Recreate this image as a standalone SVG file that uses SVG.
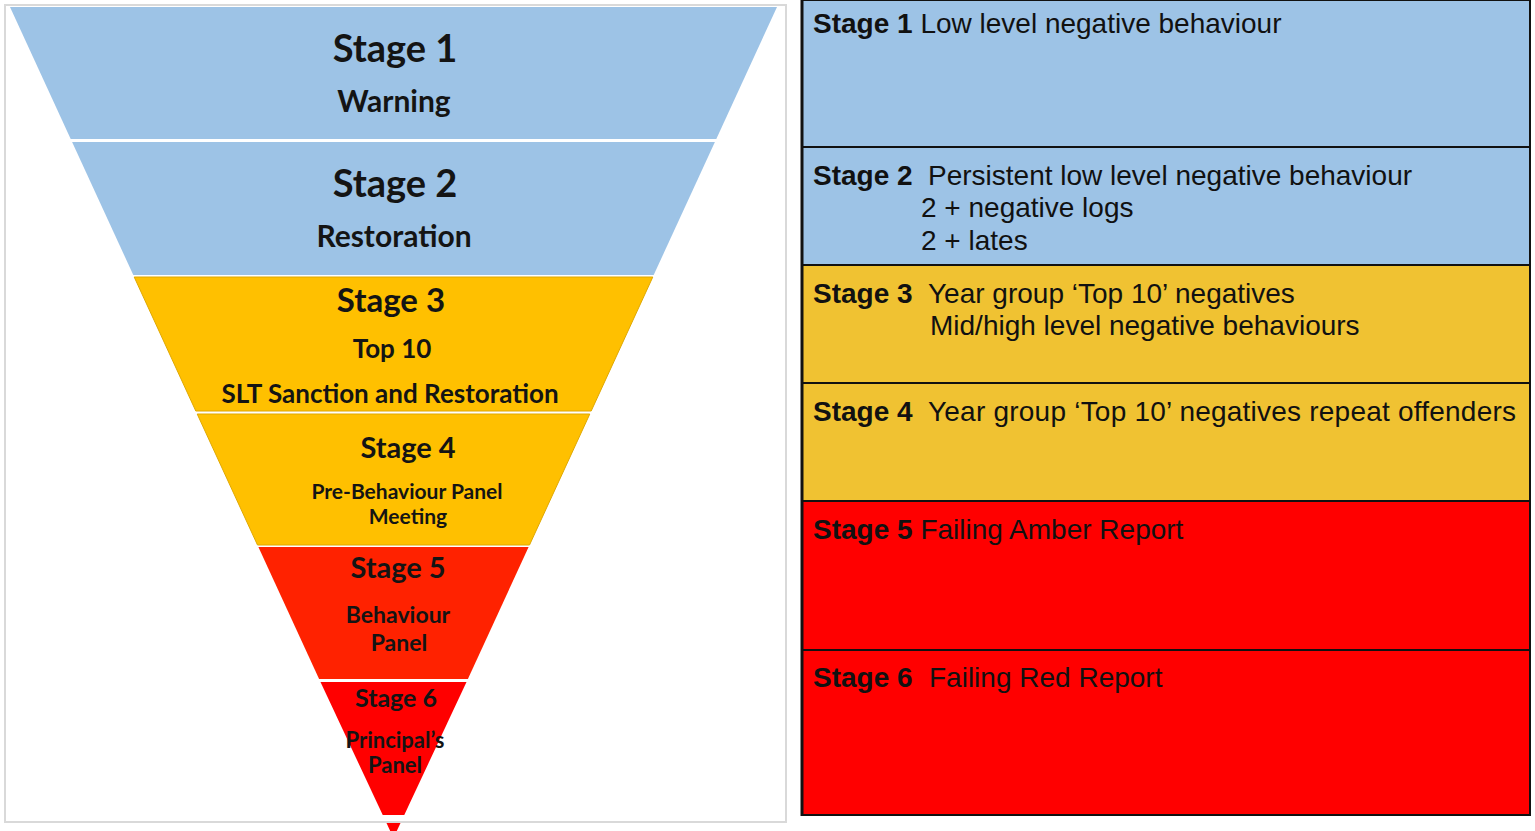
<svg xmlns="http://www.w3.org/2000/svg" width="1535" height="831" viewBox="0 0 1535 831">
<style>
.fl{font-family:Lato,"Liberation Sans",sans-serif;font-weight:bold;fill:#141414;text-anchor:middle}
.rt{font-family:"Liberation Sans",Arial,sans-serif;font-size:28px;fill:#111}
.rb{font-weight:bold}
.box{stroke:#111;stroke-width:2}
.blue{fill:#9DC3E6}
.yel{fill:#FFC000}
.ryel{fill:#F0C232}
</style>
<rect x="0" y="0" width="1535" height="831" fill="#fff"/>
<g id="funnel">
<g id="f1"><polygon class="blue" points="10,7 777,7 716.3,139 70.7,139"/><text class="fl" x="395" y="62" font-size="38">Stage 1</text><text class="fl" x="394" y="112" font-size="30">Warning</text></g>
<g id="f2"><polygon class="blue" points="72.1,142 714.9,142 653.7,275 133.3,275"/><text class="fl" x="395" y="197" font-size="38">Stage 2</text><text class="fl" x="394" y="247" font-size="30">Restoration</text></g>
<g id="f3"><polygon class="yel" points="134.2,277 652.8,277 591.2,411 195.8,411" stroke="#E0A800" stroke-width="1"/><text class="fl" x="391" y="312" font-size="33">Stage 3</text><text class="fl" x="392" y="358" font-size="26">Top 10</text><text class="fl" x="390" y="403" font-size="26">SLT Sanction and Restoration</text></g>
<g id="f4"><polygon class="yel" points="197.2,414 589.8,414 529.5,545 257.5,545" stroke="#E0A800" stroke-width="1"/><text class="fl" x="408" y="458" font-size="29">Stage 4</text><text class="fl" x="407" y="499" font-size="21">Pre-Behaviour Panel</text><text class="fl" x="408" y="524" font-size="21">Meeting</text></g>
<g id="f5"><polygon fill="#FF2200" points="258.4,547 528.6,547 467.9,679 319.1,679"/><text class="fl" x="398" y="578" font-size="29">Stage 5</text><text class="fl" x="398" y="623" font-size="23">Behaviour</text><text class="fl" x="399" y="651" font-size="23">Panel</text></g>
<g id="f6"><polygon fill="#FF0000" points="320.5,682 466.5,682 393.5,838"/><rect x="0" y="815" width="790" height="7" fill="#fff"/><text class="fl" x="396" y="707" font-size="25">Stage 6</text><text class="fl" x="395" y="748" font-size="22">Principal’s</text><text class="fl" x="395" y="773" font-size="22">Panel</text></g>
<rect x="5" y="5" width="781" height="817" fill="none" stroke="#D9D9D9" stroke-width="2"/>
</g>
<g id="table">
<g id="r1"><rect class="box blue" x="802" y="0" width="728" height="147"/><text class="rt" x="813" y="33"><tspan class="rb">Stage 1</tspan> Low level negative behaviour</text></g>
<g id="r2"><rect class="box blue" x="802" y="147" width="728" height="118"/><text class="rt" x="813" y="185"><tspan class="rb">Stage 2</tspan></text><text class="rt" x="928" y="185">Persistent low level negative behaviour</text><text class="rt" x="921" y="217">2 + negative logs</text><text class="rt" x="921" y="250">2 + lates</text></g>
<g id="r3"><rect class="box ryel" x="802" y="265" width="728" height="118"/><text class="rt" x="813" y="303"><tspan class="rb">Stage 3</tspan></text><text class="rt" x="928" y="303">Year group ‘Top 10’ negatives</text><text class="rt" x="930" y="335">Mid/high level negative behaviours</text></g>
<g id="r4"><rect class="box ryel" x="802" y="383" width="728" height="118"/><text class="rt" x="813" y="421"><tspan class="rb">Stage 4</tspan></text><text class="rt" x="928" y="421" textLength="588" lengthAdjust="spacing">Year group ‘Top 10’ negatives repeat offenders</text></g>
<g id="r5"><rect class="box" fill="#FF0000" x="802" y="501" width="728" height="149"/><text class="rt" x="813" y="539"><tspan class="rb">Stage 5</tspan> Failing Amber Report</text></g>
<g id="r6"><rect class="box" fill="#FF0000" x="802" y="650" width="728" height="165"/><text class="rt" x="813" y="687"><tspan class="rb">Stage 6</tspan></text><text class="rt" x="929" y="687">Failing Red Report</text></g>
<line x1="802" y1="0" x2="802" y2="816" stroke="#111" stroke-width="3"/>
</g>
</svg>
